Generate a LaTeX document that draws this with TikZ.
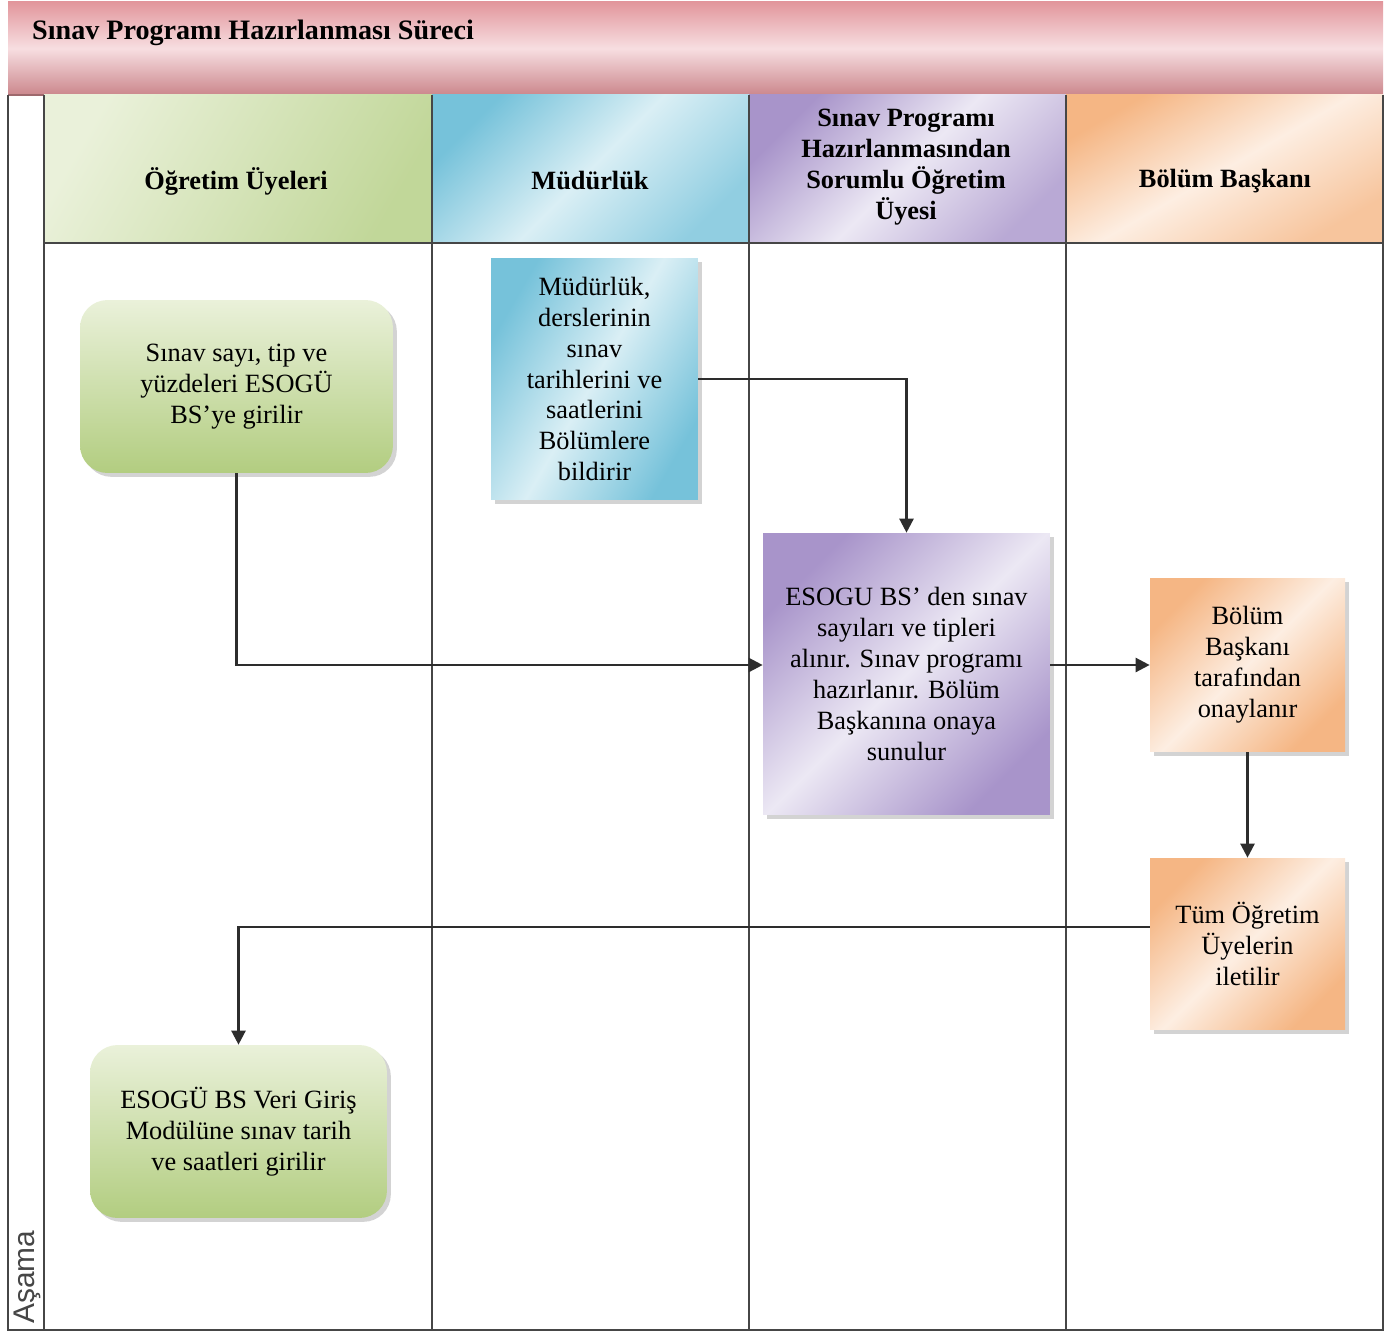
\documentclass[tikz,border=0pt]{standalone}
\usepackage{fontspec}
\setmainfont{Liberation Serif}
\newfontfamily\asamafont{Liberation Sans}
\usetikzlibrary{arrows.meta,shadows}

\definecolor{pinkD}{RGB}{226,150,156}
\definecolor{pinkL}{RGB}{247,222,225}
\definecolor{greenD}{RGB}{178,205,128}
\definecolor{greenL}{RGB}{234,241,218}
\definecolor{blueD}{RGB}{118,194,218}
\definecolor{blueL}{RGB}{218,239,245}
\definecolor{purpD}{RGB}{168,148,202}
\definecolor{purpL}{RGB}{236,232,244}
\definecolor{orngD}{RGB}{245,182,132}
\definecolor{orngL}{RGB}{253,238,226}
\definecolor{lanegray}{RGB}{70,70,70}
\definecolor{flowgray}{RGB}{45,45,45}

\begin{document}
\begin{tikzpicture}[x=0.02cm,y=-0.02cm,
  font=\fontsize{15}{17.6}\selectfont,
  lane/.style={draw=lanegray,line width=1.6pt},
  head/.style={font=\fontsize{15}{17.6}\selectfont\bfseries,align=center},
  task/.style={align=center,inner sep=0pt,
    drop shadow={shadow xshift=2.2pt,shadow yshift=-2.2pt,opacity=.35}},
  flow/.style={draw=flowgray,line width=1.4pt,-{Triangle[length=8pt,width=8pt]}}
]
\useasboundingbox (0,0) rectangle (1395,1331);

% define constants
\newcommand*{\LaneTop}{95}%
\newcommand*{\HeadBot}{243}%
\newcommand*{\LaneBot}{1330}%

% draw title bar
\fill[top color=pinkD,bottom color=pinkD!90!black,middle color=pinkL]
  (8,2) rectangle (1383,\LaneTop);
\draw[pinkD!70!black,line width=.8pt] (8,\LaneTop) -- (1383,\LaneTop);
\node[font=\fontsize{16}{19}\selectfont\bfseries,anchor=west] (title)
  at (26,33) {Sınav Programı Hazırlanması Süreci};

% draw lane headers
\fill[left color=greenL,right color=greenD!80!white,shading angle=60]
  (44,\LaneTop) rectangle (432,\HeadBot);
\fill[left color=blueD,right color=blueD!80!white,middle color=blueL,shading angle=45]
  (432,\LaneTop) rectangle (749,\HeadBot);
\fill[left color=purpD,right color=purpD!80!white,middle color=purpL,shading angle=45]
  (749,\LaneTop) rectangle (1066,\HeadBot);
\fill[left color=orngD,right color=orngD!80!white,middle color=orngL,shading angle=30]
  (1066,\LaneTop) rectangle (1383,\HeadBot);

\node[head] (hOgr) at (236,181) {Öğretim Üyeleri};
\node[head] (hMud) at (590,181) {Müdürlük};
\node[head] (hSor) at (906,167) {Sınav Programı\\Hazırlanmasından\\Sorumlu Öğretim\\Üyesi};
\node[head] (hBol) at (1225,181) {Bölüm Başkanı};

% draw lanes
\draw[lane] (44,\HeadBot) -- (1383,\HeadBot);
\draw[lane] (8,\LaneTop) -- (8,\LaneBot) -- (1383,\LaneBot) -- (1383,\LaneTop);
\draw[lane] (44,\LaneTop) -- (44,\LaneBot);
\foreach \x in {432,749,1066}
{
  \draw[lane] (\x,\LaneTop) -- (\x,\LaneBot);
}
\node[font=\asamafont\fontsize{17}{20}\selectfont,text=lanegray,rotate=90] (asama)
  at (27,1277) {Aşama};

% draw tasks
\node[task,rounded corners=0.55cm,minimum width=6.26cm,minimum height=3.46cm,
  top color=greenL,bottom color=greenD] (sayi)
  at (236.5,386.5) {Sınav sayı, tip ve\\yüzdeleri ESOGÜ\\BS’ye girilir};
\node[task,minimum width=4.14cm,minimum height=4.84cm,
  left color=blueD,right color=blueD,middle color=blueL,shading angle=60] (bildir)
  at (594.5,379) {Müdürlük,\\derslerinin\\sınav\\tarihlerini ve\\saatlerini\\Bölümlere\\bildirir};
\node[task,minimum width=5.74cm,minimum height=5.64cm,
  left color=purpD,right color=purpD,middle color=purpL,shading angle=45] (hazir)
  at (906.5,674) {ESOGU BS’ den sınav\\sayıları ve tipleri\\alınır. Sınav programı\\hazırlanır. Bölüm\\Başkanına onaya\\sunulur};
\node[task,minimum width=3.9cm,minimum height=3.48cm,
  left color=orngD,right color=orngD,middle color=orngL,shading angle=45] (onay)
  at (1247.5,665) {Bölüm\\Başkanı\\tarafından\\onaylanır};
\node[task,minimum width=3.9cm,minimum height=3.44cm,
  left color=orngD,right color=orngD,middle color=orngL,shading angle=45] (ilet)
  at (1247.5,944) {Tüm Öğretim\\Üyelerin\\iletilir};
\node[task,rounded corners=0.55cm,minimum width=5.94cm,minimum height=3.46cm,
  top color=greenL,bottom color=greenD] (giris)
  at (238.5,1131.5) {ESOGÜ BS Veri Giriş\\Modülüne sınav tarih\\ve saatleri girilir};

% draw flows
\draw[flow] (sayi.south) |- (hazir.west |- onay.west);
\draw[flow] (bildir.east) -| (hazir.north);
\draw[flow] (hazir.east |- onay.west) -- (onay.west);
\draw[flow] (onay.south) -- (ilet.north);
\draw[flow] (ilet.170) -| (giris.north);

\end{tikzpicture}
\end{document}
